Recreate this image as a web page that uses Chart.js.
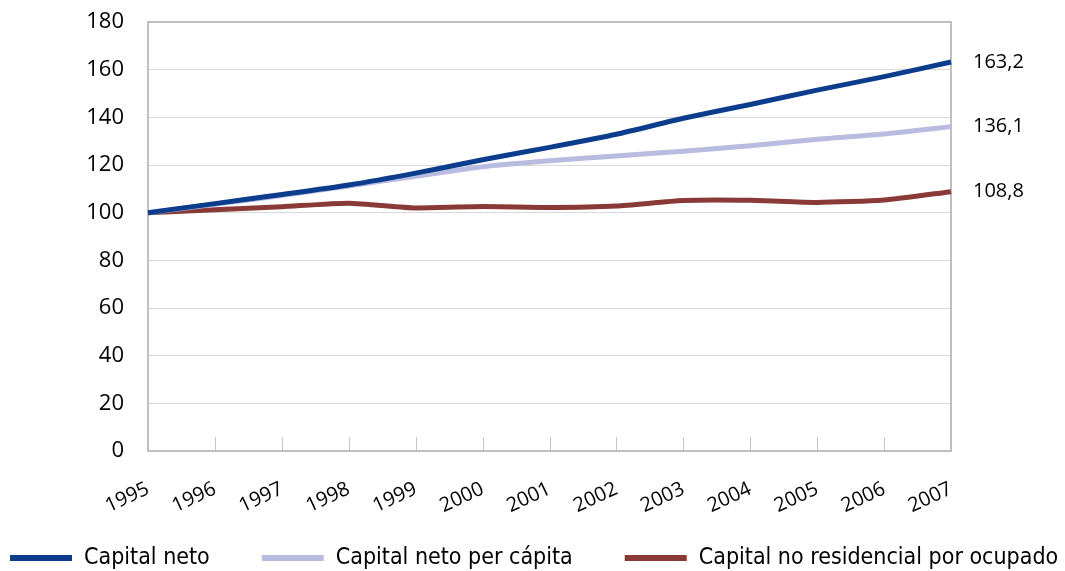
<!DOCTYPE html>
<html>
<head>
<meta charset="utf-8">
<script src="https://cdn.jsdelivr.net/npm/chart.js@4.4.1/dist/chart.umd.min.js"></script>
<style>
  html, body { margin: 0; padding: 0; background: #fff; }
  #wrap { width: 1065px; height: 571px; position: relative; }
</style>
</head>
<body>
<div id="wrap"><canvas id="capitalChart"></canvas></div>
<script>
const years = ['1995', '1996', '1997', '1998', '1999', '2000', '2001', '2002', '2003', '2004', '2005', '2006', '2007'];
const capitalNeto = [100, 103.8, 107.6, 111.6, 116.6, 122.2, 127.4, 132.9, 139.6, 145.4, 151.4, 157.1, 163.2];
const capitalPerCapita = [100, 103.5, 107.2, 111.2, 115.3, 119.3, 121.8, 123.8, 125.8, 128.1, 130.8, 133.0, 136.1];
const capitalNoResidencial = [100, 101.2, 102.5, 104.0, 102.0, 102.6, 102.2, 102.8, 105.1, 105.2, 104.3, 105.3, 108.8];
const yTicks = [0, 20, 40, 60, 80, 100, 120, 140, 160, 180];

const labelFont = '"Open Sans", "Noto Sans", sans-serif';
const legendFont = '"DejaVu Sans Condensed", "Liberation Sans Narrow", sans-serif';

// frame + small inner ticks on the category axis
const framePlugin = {
    id: 'frame',
    beforeDatasetsDraw(chart) {
        const { ctx, chartArea, scales } = chart;
        ctx.save();
        ctx.strokeStyle = '#c4c4c4';
        ctx.lineWidth = 1;
        scales.x.ticks.forEach((t, i) => {
            const x = Math.round(scales.x.getPixelForValue(i)) + 0.5;
            ctx.beginPath();
            ctx.moveTo(x, chartArea.bottom - 14);
            ctx.lineTo(x, chartArea.bottom);
            ctx.stroke();
        });
        ctx.lineWidth = 2;
        ctx.strokeStyle = '#bfbfbf';
        ctx.strokeRect(chartArea.left, chartArea.top, chartArea.right - chartArea.left, chartArea.bottom - chartArea.top);
        ctx.restore();
    }
};

// value labels next to the last point of each line
const endLabels = {
    id: 'endLabels',
    afterDatasetsDraw(chart) {
        const { ctx } = chart;
        ctx.save();
        ctx.font = '20px ' + labelFont;
        ctx.fillStyle = '#000';
        ctx.textAlign = 'left';
        ctx.textBaseline = 'middle';
        chart.data.datasets.forEach((ds, i) => {
            const meta = chart.getDatasetMeta(i);
            const last = meta.data[meta.data.length - 1];
            const v = ds.data[ds.data.length - 1];
            ctx.fillText(v.toFixed(1).replace('.', ','), last.x + 22, last.y);
        });
        ctx.restore();
    }
};

// one-row legend along the bottom edge
const bottomLegend = {
    id: 'bottomLegend',
    afterDraw(chart) {
        const { ctx } = chart;
        ctx.save();
        ctx.font = '23px ' + legendFont;
        ctx.textBaseline = 'middle';
        ctx.textAlign = 'left';
        let x = 10;
        const y = 558;
        chart.data.datasets.forEach(ds => {
            ctx.fillStyle = ds.borderColor;
            ctx.fillRect(x, y - 3, 62, 6);
            x += 74;
            ctx.fillStyle = '#000';
            ctx.fillText(ds.label, x, y);
            x += ctx.measureText(ds.label).width + 52;
        });
        ctx.restore();
    }
};

new Chart(document.getElementById('capitalChart'), {
    type: 'line',
    data: {
        labels: years,
        datasets: [
            {
                label: 'Capital neto',
                data: capitalNeto,
                borderColor: '#0b3d8c',
                backgroundColor: '#0b3d8c',
                borderWidth: 5,
                pointRadius: 0,
                tension: 0.2
            },
            {
                label: 'Capital neto per cápita',
                data: capitalPerCapita,
                borderColor: '#b9bbe0',
                backgroundColor: '#b9bbe0',
                borderWidth: 5,
                pointRadius: 0,
                tension: 0.2
            },
            {
                label: 'Capital no residencial por ocupado',
                data: capitalNoResidencial,
                borderColor: '#8a3a36',
                backgroundColor: '#8a3a36',
                borderWidth: 5,
                pointRadius: 0,
                tension: 0.2
            }
        ]
    },
    options: {
        responsive: true,
        maintainAspectRatio: false,
        animation: false,
        layout: { padding: { left: 0, right: 114, top: 22, bottom: 0 } },
        plugins: {
            tooltip: { enabled: false },
            legend: { display: false }
        },
        scales: {
            x: {
                offset: false,
                grid: { display: false, drawTicks: false },
                border: { display: false },
                ticks: {
                    color: '#000',
                    font: { family: labelFont, size: 20 },
                    minRotation: 25,
                    maxRotation: 25,
                    padding: 26,
                    autoSkip: false
                },
                afterFit(scale) { scale.height = 120; }
            },
            y: {
                min: 0,
                max: 180,
                afterBuildTicks(scale) { scale.ticks = yTicks.map(v => ({ value: v })); },
                grid: { color: '#d9d9d9', lineWidth: 1, drawTicks: false },
                border: { display: false },
                ticks: {
                    color: '#000',
                    font: { family: labelFont, size: 22 },
                    padding: 24
                },
                afterFit(scale) {
                    scale.width = 148;
                    scale.paddingTop = 0;
                    scale.paddingBottom = 0;
                }
            }
        }
    },
    plugins: [framePlugin, endLabels, bottomLegend]
});
</script>
</body>
</html>
